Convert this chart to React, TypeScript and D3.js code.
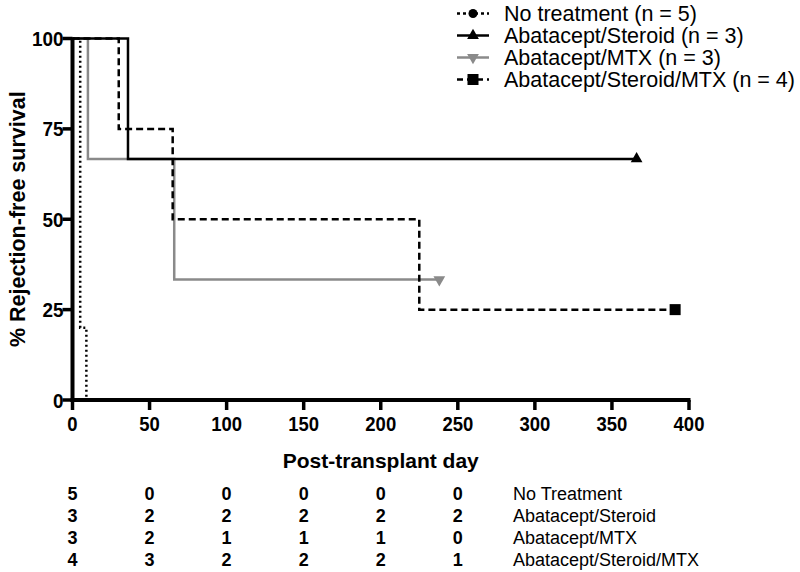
import React from "react";
import * as d3 from "d3";

const seriesLabels = [
  "No treatment (n = 5)",
  "Abatacept/Steroid (n = 3)",
  "Abatacept/MTX (n = 3)",
  "Abatacept/Steroid/MTX (n = 4)",
];
const noTreatmentDays = [0, 5, 9];
const noTreatmentSurvival = [100, 20, 0];
const steroidDays = [0, 36, 366];
const steroidSurvival = [100, 66.7, 66.7];
const mtxDays = [0, 10, 66, 238];
const mtxSurvival = [100, 66.7, 33.3, 33.3];
const steroidMtxDays = [0, 30, 65, 225, 391];
const steroidMtxSurvival = [100, 75, 50, 25, 25];

const xTicks = [0, 50, 100, 150, 200, 250, 300, 350, 400];
const yTicks = [0, 25, 50, 75, 100];

const riskDays = [0, 50, 100, 150, 200, 250];
const riskLabels = ["No Treatment", "Abatacept/Steroid", "Abatacept/MTX", "Abatacept/Steroid/MTX"];
const riskNoTreatment = [5, 0, 0, 0, 0, 0];
const riskSteroid = [3, 2, 2, 2, 2, 2];
const riskMtx = [3, 2, 1, 1, 1, 0];
const riskSteroidMtx = [4, 3, 2, 2, 2, 1];

const FONT = "'Liberation Sans', Arial, Helvetica, sans-serif";
const GREY = "#8a8a8a";

export default function App() {
  const x = d3.scaleLinear().domain([0, 400]).range([72.5, 689]);
  const y = d3.scaleLinear().domain([0, 100]).range([400, 38.5]);
  const line = d3
    .line<[number, number]>()
    .x((d) => x(d[0]))
    .y((d) => y(d[1]))
    .curve(d3.curveStepAfter);

  const zip = (a: number[], b: number[]) => a.map((v, i) => [v, b[i]] as [number, number]);

  const series = [
    { pts: zip(mtxDays, mtxSurvival), color: GREY, dash: null, marker: "down" },
    { pts: zip(steroidDays, steroidSurvival), color: "#000", dash: null, marker: "up" },
    { pts: zip(steroidMtxDays, steroidMtxSurvival), color: "#000", dash: "7,4", marker: "square" },
    { pts: zip(noTreatmentDays, noTreatmentSurvival), color: "#000", dash: "2,3", marker: null },
  ];

  const marker = (kind: string | null, cx: number, cy: number, color: string, key: string) => {
    if (kind === "up") {
      const p = d3.symbol().type(d3.symbolTriangle).size(60)();
      return <path key={key} d={p || ""} transform={`translate(${cx},${cy})`} fill={color} />;
    }
    if (kind === "down") {
      const p = d3.symbol().type(d3.symbolTriangle).size(60)();
      return <path key={key} d={p || ""} transform={`translate(${cx},${cy}) rotate(180)`} fill={color} />;
    }
    if (kind === "square") {
      return <rect key={key} x={cx - 5.5} y={cy - 5.5} width={11} height={11} fill={color} />;
    }
    if (kind === "circle") {
      return <circle key={key} cx={cx} cy={cy} r={4.5} fill={color} />;
    }
    return null;
  };

  const legend = [
    { color: "#000", dash: "3,3", marker: "circle" },
    { color: "#000", dash: null, marker: "up" },
    { color: GREY, dash: null, marker: "down" },
    { color: "#000", dash: "6,4", marker: "square" },
  ];

  const riskRows = [riskNoTreatment, riskSteroid, riskMtx, riskSteroidMtx];

  return (
    <svg width={800} height={572} style={{ position: "absolute", left: 0, top: 0, background: "#fff" }} fontFamily={FONT}>
      <rect width={800} height={572} fill="#fff" />
      {series.map((s, i) => (
        <path
          key={"s" + i}
          d={line(s.pts) || ""}
          fill="none"
          stroke={s.color}
          strokeWidth={2.5}
          strokeDasharray={s.dash || undefined}
        />
      ))}
      {series.map((s, i) => {
        const last = s.pts[s.pts.length - 1];
        return marker(s.marker, x(last[0]), y(last[1]), s.color, "m" + i);
      })}

      <line x1={x(0)} x2={x(0)} y1={y(100) - 1} y2={y(0) + 2} stroke="#000" strokeWidth={4} />
      <line x1={x(0) - 2} x2={x(400) + 1.5} y1={y(0)} y2={y(0)} stroke="#000" strokeWidth={4} />
      {yTicks.map((t) => (
        <g key={"yt" + t}>
          <line x1={x(0) - 10} x2={x(0)} y1={y(t)} y2={y(t)} stroke="#000" strokeWidth={3.5} />
          <text
            transform={`translate(${x(0) - 9},${y(t)}) scale(0.9,1)`}
            dy="0.36em"
            textAnchor="end"
            fontSize={21}
            fontWeight="bold"
          >
            {t}
          </text>
        </g>
      ))}
      {xTicks.map((t) => (
        <g key={"xt" + t}>
          <line x1={x(t)} x2={x(t)} y1={y(0)} y2={y(0) + 10} stroke="#000" strokeWidth={3.5} />
          <text
            transform={`translate(${x(t)},423) scale(0.88,1)`}
            dy="0.36em"
            textAnchor="middle"
            fontSize={21}
            fontWeight="bold"
          >
            {t}
          </text>
        </g>
      ))}
      <text x={(x(0) + x(400)) / 2} y={460} dy="0.36em" textAnchor="middle" fontSize={21} fontWeight="bold">
        Post-transplant day
      </text>
      <text
        transform={`translate(17,${(y(0) + y(100)) / 2}) rotate(-90)`}
        dy="0.36em"
        textAnchor="middle"
        fontSize={21.5}
        fontWeight="bold"
      >
        % Rejection-free survival
      </text>

      {legend.map((l, i) => {
        const cy = 13.5 + i * 22;
        return (
          <g key={"lg" + i}>
            <line x1={457} x2={489} y1={cy} y2={cy} stroke={l.color} strokeWidth={2.5} strokeDasharray={l.dash || undefined} />
            {marker(l.marker, 473, cy, l.color, "lm" + i)}
            <text x={504} y={cy} dy="0.36em" fontSize={21.5}>
              {seriesLabels[i]}
            </text>
          </g>
        );
      })}

      {riskRows.map((row, r) => {
        const cy = 493.5 + r * 22;
        return (
          <g key={"rr" + r}>
            {row.map((v, c) => (
              <text key={c} x={x(riskDays[c])} y={cy} dy="0.36em" textAnchor="middle" fontSize={18} fontWeight="bold">
                {v}
              </text>
            ))}
            <text x={513} y={cy} dy="0.36em" fontSize={18}>
              {riskLabels[r]}
            </text>
          </g>
        );
      })}
    </svg>
  );
}
